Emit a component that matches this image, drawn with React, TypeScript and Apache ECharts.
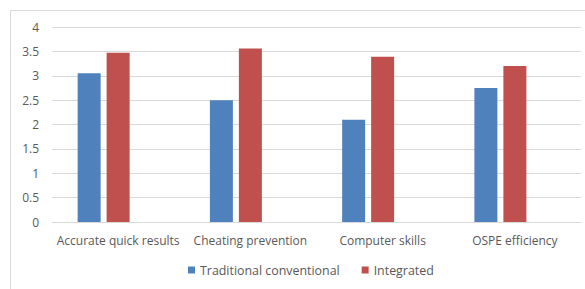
import React, { useEffect, useRef } from "react";
import * as echarts from "echarts";

const categories = ["Accurate quick results", "Cheating prevention", "Computer skills", "OSPE efficiency"];
const traditional = [3.05, 2.5, 2.1, 2.75];
const integrated = [3.47, 3.56, 3.39, 3.2];
const emptySeries = [null, null, null, null];
const yTicks = { min: 0, max: 4, interval: 0.5 };

export default function App() {
  const ref = useRef<HTMLDivElement>(null);
  useEffect(() => {
    document.body.style.margin = "0";
    const chart = echarts.init(ref.current!, null, { renderer: "svg" });
    const font = "'Open Sans', 'Liberation Sans', sans-serif";
    chart.setOption({
      animation: false,
      textStyle: { fontFamily: font },
      graphic: [
        {
          type: "rect",
          shape: { x: 10.5, y: 10.5, width: 620, height: 320 },
          style: { fill: "none", stroke: "#d9d9d9", lineWidth: 1 },
          silent: true,
        },
      ],
      grid: { left: 52, right: 4, top: 27, bottom: 67, containLabel: false },
      legend: {
        data: ["Traditional conventional", "Integrated"],
        bottom: 8,
        left: 183,
        itemWidth: 7,
        itemHeight: 7,
        itemGap: 22,
        icon: "rect",
        textStyle: { color: "#595959", fontSize: 12.4, fontFamily: font },
      },
      xAxis: {
        type: "category",
        data: categories,
        axisLine: { lineStyle: { color: "#d9d9d9" } },
        axisTick: { show: false },
        axisLabel: { color: "#595959", fontSize: 12, margin: 12, fontFamily: font, interval: 0 },
      },
      yAxis: {
        type: "value",
        min: yTicks.min,
        max: yTicks.max,
        interval: yTicks.interval,
        axisLine: { show: false },
        axisTick: { show: false },
        splitLine: { lineStyle: { color: "#d9d9d9" } },
        axisLabel: { color: "#595959", fontSize: 12, margin: 13, fontFamily: font },
      },
      series: [
        {
          name: "Traditional conventional",
          type: "bar",
          data: traditional,
          barWidth: 23,
          barGap: "26%",
          itemStyle: { color: "#4F81BD" },
        },
        {
          name: "Integrated",
          type: "bar",
          data: integrated,
          barWidth: 23,
          barGap: "26%",
          itemStyle: { color: "#C0504D" },
        },
        {
          name: "Series3",
          type: "bar",
          data: emptySeries,
          barWidth: 23,
          barGap: "26%",
          itemStyle: { color: "#9BBB59" },
        },
      ],
    });
    return () => chart.dispose();
  }, []);
  return <div ref={ref} style={{ width: 585, height: 289 }} />;
}
